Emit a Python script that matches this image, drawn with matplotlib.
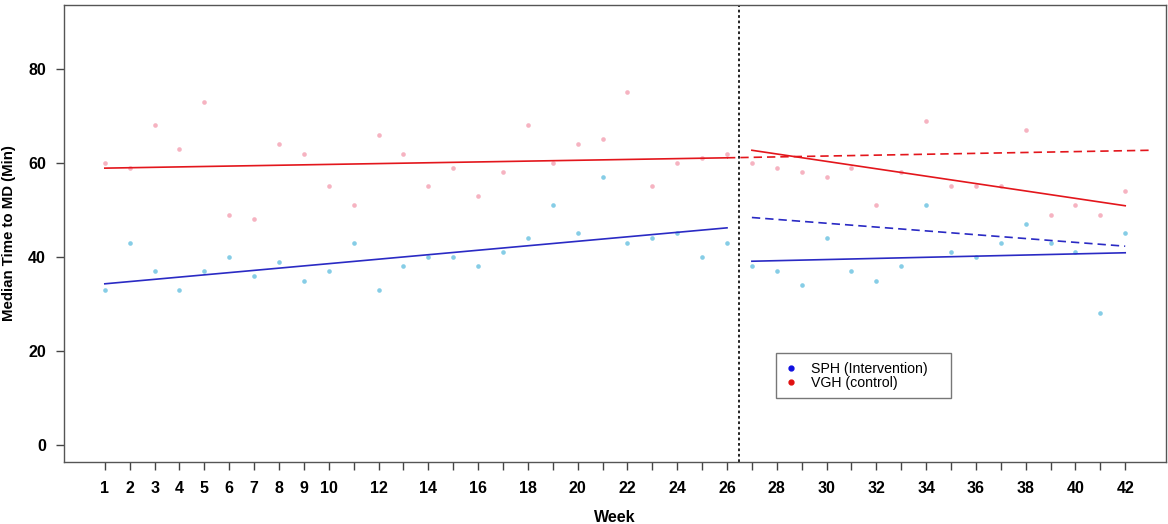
import numpy as np
import matplotlib
matplotlib.use("Agg")
import matplotlib.pyplot as plt
from matplotlib.lines import Line2D

plt.rcParams['font.family'] = ['Liberation Sans', 'DejaVu Sans']

# ===================== Datos =====================
weeks = list(range(1, 43))

# VGH (control) - puntos rosados
vgh = [60, 59, 68, 63, 73, 49, 48, 64, 62, 55, 51, 66, 62, 55, 59, 53, 58, 68, 60, 64, 65,
       75, 55, 60, 61, 62,
       60, 59, 58, 57, 59, 51, 58, 69, 55, 55, 55, 67, 49, 51, 49, 54]

# SPH (intervention) - puntos celestes
sph = [33, 43, 37, 33, 37, 40, 36, 39, 35, 37, 43, 33, 38, 40, 40, 38, 41, 44, 51, 45, 57,
       43, 44, 45, 40, 43,
       38, 37, 34, 44, 37, 35, 38, 51, 41, 40, 43, 47, 43, 41, 28, 45]

# Rectas de tendencia (extremos)
vgh_pre_weeks, vgh_pre_vals = [1, 26], [58.9, 61.1]
vgh_post_weeks, vgh_post_vals = [27, 42], [62.7, 50.9]
vgh_cf_weeks, vgh_cf_vals = [26, 43], [61.1, 62.7]

sph_pre_weeks, sph_pre_vals = [1, 26], [34.3, 46.2]
sph_post_weeks, sph_post_vals = [27, 42], [39.1, 40.9]
sph_cf_weeks, sph_cf_vals = [27, 42], [48.4, 42.3]

break_week = 26.5

xtick_pos = list(range(1, 43))
xtick_labels = [str(w) if (w <= 10 or w % 2 == 0) else "" for w in xtick_pos]
ytick_pos = [0, 20, 40, 60, 80]

# ===================== Grafico =====================
fig = plt.figure(figsize=(11.68, 5.24), dpi=100)
ax = fig.add_axes([0.0548, 0.1183, 0.9435, 0.8722])

pink = "#f6b3c1"
sky = "#86cde6"
red = "#e3161c"
blue = "#2a2ac4"

ax.scatter(weeks, vgh, s=11, color=pink, zorder=2, linewidths=0)
ax.scatter(weeks, sph, s=11, color=sky, zorder=2, linewidths=0)

ax.plot(vgh_pre_weeks, vgh_pre_vals, color=red, lw=1.2, zorder=3)
ax.plot(vgh_post_weeks, vgh_post_vals, color=red, lw=1.2, zorder=3)
ax.plot(vgh_cf_weeks, vgh_cf_vals, color=red, lw=1.2, ls=(0, (5, 3)), zorder=3)

ax.plot(sph_pre_weeks, sph_pre_vals, color=blue, lw=1.2, zorder=3)
ax.plot(sph_post_weeks, sph_post_vals, color=blue, lw=1.2, zorder=3)
ax.plot(sph_cf_weeks, sph_cf_vals, color=blue, lw=1.2, ls=(0, (5, 3)), zorder=3)

ax.axvline(break_week, color="#111111", lw=1.3, ls=(0, (1.5, 1.5)), zorder=1)

ax.set_xlim(-0.64, 43.64)
ax.set_ylim(-3.6, 93.6)

ax.set_xticks(xtick_pos)
ax.set_xticklabels(xtick_labels)
ax.set_yticks(ytick_pos)

for s in ax.spines.values():
    s.set_color("#555555")
    s.set_linewidth(1.0)

ax.tick_params(axis='x', direction='out', length=6, width=1, color="#444444",
               labelsize=11.5, pad=8)
ax.tick_params(axis='y', direction='out', length=6, width=1, color="#444444",
               labelsize=11.5, pad=7)
for lab in ax.get_xticklabels() + ax.get_yticklabels():
    lab.set_fontweight('bold')

ax.set_xlabel("Week", fontsize=11.5, fontweight='bold', labelpad=10)
ax.set_ylabel("Median Time to MD (Min)", fontsize=10.8, fontweight='bold', labelpad=9)

handles = [
    Line2D([], [], ls='none', marker='o', markersize=3.5, color='#1010e0'),
    Line2D([], [], ls='none', marker='o', markersize=3.5, color='#e01010'),
]
leg = ax.legend(handles, ["SPH (Intervention)", "VGH (control)"],
                loc='upper left', bbox_to_anchor=(0.646, 0.1376, 0.159, 0.1),
                mode='expand', fancybox=False, edgecolor="#777777", framealpha=1,
                fontsize=10.2, handlelength=1.0, handletextpad=0.9,
                borderpad=0.6, labelspacing=0.0, borderaxespad=0)
leg.get_frame().set_linewidth(1.0)

fig.savefig("out.png", dpi=100)
